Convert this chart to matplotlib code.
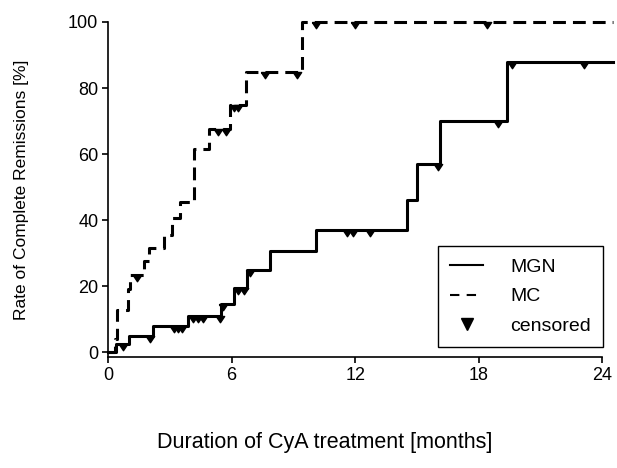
import numpy as np
import matplotlib
matplotlib.use('Agg')
import matplotlib.pyplot as plt
from matplotlib.lines import Line2D

# MGN: step times (months) and remission rate (%) after each step
mgn_times = [0.0, 0.4, 1.0, 2.2, 3.9, 5.5, 6.1, 6.75, 7.85, 10.1, 14.5, 15.0, 16.1, 19.35, 24.5]
mgn_rates = [0.0, 2.5, 5.0, 7.8, 11.0, 14.6, 19.5, 25.0, 30.5, 37.0, 46.0, 57.0, 70.0, 88.0, 88.0]
mgn_cens_t = [0.75, 2.05, 3.2, 3.4, 3.6, 4.15, 4.35, 4.6, 5.45, 5.6, 6.3, 6.6, 6.9,
              11.6, 11.9, 12.7, 16.0, 18.95, 19.6, 23.1]

# MC
mc_times = [0.0, 0.35, 0.45, 0.95, 1.05, 1.75, 2.0, 2.7, 3.1, 3.5, 4.2, 4.9, 5.9, 6.7, 9.4, 24.5]
mc_rates = [0.0, 4.0, 12.7, 19.0, 23.5, 27.6, 31.6, 35.4, 40.5, 45.4, 61.5, 67.5, 75.0, 85.0, 100.0, 100.0]
mc_cens_t = [1.4, 5.35, 5.75, 6.1, 6.3, 7.6, 9.2, 10.1, 12.0, 18.4]

xticks = [0, 6, 12, 18, 24]
yticks = [0, 20, 40, 60, 80, 100]


def level_at(times, rates, t):
    """value of the step curve at time t"""
    idx = np.searchsorted(times, t, side='right') - 1
    return rates[idx]


plt.rcParams['font.family'] = ['Liberation Sans', 'DejaVu Sans']
plt.rcParams['font.size'] = 13

fig = plt.figure(figsize=(6.17, 4.68), dpi=100)
ax = fig.add_axes([0.175, 0.237, 0.818, 0.716])

# triangle hanging below the line
tri = [(-1.0, 0.0), (1.0, 0.0), (0.0, -1.5), (-1.0, 0.0)]
dash = (0, (4.2, 2.3))

ax.step(mgn_times, mgn_rates, where='post', color='black', lw=2.2, clip_on=False)
ax.step(mc_times, mc_rates, where='post', color='black', lw=2.2,
        linestyle=dash, clip_on=False)

mgn_cy = [level_at(mgn_times, mgn_rates, t) for t in mgn_cens_t]
mc_cy = [level_at(mc_times, mc_rates, t) for t in mc_cens_t]
ax.plot(mgn_cens_t, mgn_cy, linestyle='none', marker=tri, markersize=9,
        color='black', clip_on=False)
ax.plot(mc_cens_t, mc_cy, linestyle='none', marker=tri, markersize=9,
        color='black', clip_on=False)

ax.set_xlim(0, 24.5)
ax.set_ylim(-1.5, 100)
ax.set_xticks(xticks)
ax.set_yticks(yticks)
ax.spines['top'].set_visible(False)
ax.spines['right'].set_visible(False)
ax.spines['bottom'].set_bounds(0, 24)
ax.spines['left'].set_bounds(-1.5, 100)
ax.spines['bottom'].set_linewidth(1.2)
ax.spines['left'].set_linewidth(1.2)
ax.tick_params(direction='out', length=4, width=1.2, labelsize=13, pad=3)

ax.set_xlabel('Duration of CyA treatment [months]', fontsize=15.5)
ax.xaxis.set_label_coords(0.43, -0.225)
ax.set_ylabel('Rate of Complete Remissions [%]', fontsize=12.5, labelpad=28)

handles = [
    Line2D([], [], color='black', lw=1.5),
    Line2D([], [], color='black', lw=1.5, linestyle=(0, (4.5, 3.5))),
    Line2D([], [], color='black', linestyle='none', marker='v', markersize=8),
]
leg = ax.legend(handles, ['MGN', 'MC', 'censored'], loc='lower right',
                bbox_to_anchor=(0.981, 0.03), borderaxespad=0,
                fancybox=False, framealpha=1, edgecolor='black',
                handlelength=1.7, handletextpad=1.4,
                labelspacing=0.62, borderpad=0.62, fontsize=14)
leg.get_frame().set_linewidth(1.0)

fig.savefig('out.png', dpi=100)
